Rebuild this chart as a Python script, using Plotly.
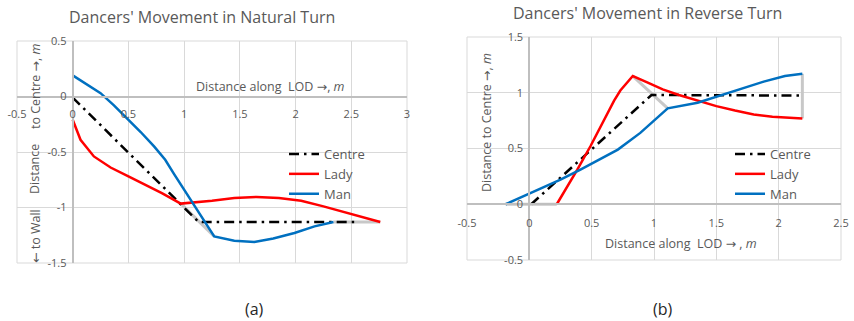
import plotly.graph_objects as go

# ---------------- data: chart (a) Natural Turn ----------------
a_centre_x = [0.0, 1.13, 2.55]
a_centre_y = [-0.01, -1.13, -1.13]
a_lady_x = [0.0, 0.07, 0.19, 0.34, 0.5, 0.64, 0.8, 0.97, 1.1, 1.25, 1.45, 1.65, 1.85, 2.05, 2.25, 2.5, 2.76]
a_lady_y = [-0.21, -0.39, -0.54, -0.64, -0.72, -0.79, -0.87, -0.965, -0.955, -0.94, -0.915, -0.905, -0.915, -0.94, -0.99, -1.06, -1.13]
a_man_x = [0.0, 0.06, 0.12, 0.25, 0.37, 0.49, 0.61, 0.73, 0.83, 0.91, 1.0, 1.09, 1.18, 1.27, 1.45, 1.63, 1.8, 1.99, 2.17, 2.34]
a_man_y = [0.19, 0.15, 0.11, 0.03, -0.08, -0.2, -0.32, -0.45, -0.57, -0.7, -0.84, -0.99, -1.12, -1.26, -1.30, -1.31, -1.28, -1.23, -1.17, -1.13]
a_link_x = [[0.97, 1.27], [2.34, 2.76]]
a_link_y = [[-0.965, -1.26], [-1.13, -1.13]]

# ---------------- data: chart (b) Reverse Turn ----------------
b_centre_x = [0.015, 0.98, 2.19]
b_centre_y = [0.0, 0.98, 0.975]
b_lady_x = [0.22, 0.3, 0.385, 0.49, 0.56, 0.63, 0.68, 0.73, 0.78, 0.83, 0.95, 1.07, 1.2, 1.35, 1.5, 1.65, 1.8, 1.95, 2.1, 2.19]
b_lady_y = [0.0, 0.15, 0.31, 0.52, 0.67, 0.82, 0.93, 1.02, 1.09, 1.15, 1.09, 1.03, 0.98, 0.93, 0.88, 0.84, 0.805, 0.785, 0.775, 0.77]
b_man_x = [-0.19, -0.05, 0.09, 0.25, 0.41, 0.56, 0.71, 0.89, 1.05, 1.11, 1.35, 1.61, 1.88, 2.05, 2.19]
b_man_y = [0.0, 0.07, 0.14, 0.22, 0.31, 0.4, 0.49, 0.64, 0.8, 0.86, 0.91, 1.0, 1.1, 1.15, 1.17]
b_link_x = [[-0.19, 0.22], [0.83, 1.11], [2.19, 2.19]]
b_link_y = [[0.0, 0.0], [1.15, 0.86], [0.77, 1.17]]

# ticks
a_xticks = [-0.5, 0, 0.5, 1, 1.5, 2, 2.5, 3]
a_xtext = ["-0.5", "0", "0.5", "1", "1.5", "2", "2.5", "3"]
a_yticks = [-1.5, -1, -0.5, 0, 0.5]
a_ytext = ["-1.5", "-1", "-0.5", "0", "0.5"]
b_xticks = [-0.5, 0, 0.5, 1, 1.5, 2, 2.5]
b_xtext = ["-0.5", "0", "0.5", "1", "1.5", "2", "2.5"]
b_yticks = [-0.5, 0, 0.5, 1, 1.5]
b_ytext = ["-0.5", "0", "0.5", "1", "1.5"]

series_names = ["Centre", "Lady", "Man"]

# ---------------- layout geometry ----------------
W, H = 854, 321
FONT = "Open Sans"
GREY = "#595959"
GRID = "#D9D9D9"
AXL = "#BFBFBF"
LINK = "#C8C8C8"
RED = "#FF0000"
BLUE = "#0070C0"
DASH = "10px,5px,2.5px,5px"
ARROW_R = '<span style="font-family:DejaVu Sans">\u2192</span>'
ARROW_L = '<span style="font-family:DejaVu Sans">\u2190</span>'

xdomA = [17 / W, 407 / W]
ydomA = [1 - 263 / H, 1 - 41 / H]
xdomB = [467 / W, 841 / W]
ydomB = [1 - 260 / H, 1 - 37 / H]
xrA, yrA = [-0.5, 3], [-1.5, 0.5]
xrB, yrB = [-0.5, 2.5], [-0.5, 1.5]


def frac(v, r, d):
    return d[0] + (v - r[0]) / (r[1] - r[0]) * (d[1] - d[0])


fig = go.Figure()

for xs, ys in zip(a_link_x, a_link_y):
    fig.add_trace(go.Scatter(x=xs, y=ys, mode="lines", line=dict(color=LINK, width=3),
                             showlegend=False, hoverinfo="skip", xaxis="x", yaxis="y"))
for xs, ys in zip(b_link_x, b_link_y):
    fig.add_trace(go.Scatter(x=xs, y=ys, mode="lines", line=dict(color=LINK, width=3),
                             showlegend=False, hoverinfo="skip", xaxis="x2", yaxis="y2"))

fig.add_trace(go.Scatter(x=a_centre_x, y=a_centre_y, name=series_names[0], mode="lines",
                         line=dict(color="black", width=2.5, dash=DASH), xaxis="x", yaxis="y", legend="legend"))
fig.add_trace(go.Scatter(x=a_lady_x, y=a_lady_y, name=series_names[1], mode="lines",
                         line=dict(color=RED, width=2.5), xaxis="x", yaxis="y", legend="legend"))
fig.add_trace(go.Scatter(x=a_man_x, y=a_man_y, name=series_names[2], mode="lines",
                         line=dict(color=BLUE, width=2.5), xaxis="x", yaxis="y", legend="legend"))
fig.add_trace(go.Scatter(x=b_centre_x, y=b_centre_y, name=series_names[0], mode="lines",
                         line=dict(color="black", width=2.5, dash=DASH), xaxis="x2", yaxis="y2", legend="legend2"))
fig.add_trace(go.Scatter(x=b_lady_x, y=b_lady_y, name=series_names[1], mode="lines",
                         line=dict(color=RED, width=2.5), xaxis="x2", yaxis="y2", legend="legend2"))
fig.add_trace(go.Scatter(x=b_man_x, y=b_man_y, name=series_names[2], mode="lines",
                         line=dict(color=BLUE, width=2.5), xaxis="x2", yaxis="y2", legend="legend2"))

tickfont = dict(family=FONT, size=11, color=GREY)
common = dict(showgrid=True, gridcolor=GRID, gridwidth=1, zeroline=False, showline=True,
              linecolor=AXL, linewidth=2, ticks="", tickfont=tickfont, fixedrange=True,
              automargin=False)

fig.update_layout(
    width=W, height=H, margin=dict(l=0, r=0, t=0, b=0, pad=0, autoexpand=False),
    paper_bgcolor="white", plot_bgcolor="white",
    font=dict(family=FONT, color=GREY),
    xaxis=dict(domain=xdomA, range=xrA, tickvals=a_xticks, ticktext=a_xtext,
               anchor="free", position=frac(0, yrA, ydomA), ticklabelstandoff=7, **common),
    yaxis=dict(domain=ydomA, range=yrA, tickvals=a_yticks, ticktext=a_ytext,
               anchor="free", position=frac(0, xrA, xdomA), ticklabelstandoff=3, **common),
    xaxis2=dict(domain=xdomB, range=xrB, tickvals=b_xticks, ticktext=b_xtext,
                anchor="free", position=frac(0, yrB, ydomB), ticklabelstandoff=9, **common),
    yaxis2=dict(domain=ydomB, range=yrB, tickvals=b_yticks, ticktext=b_ytext,
                anchor="free", position=frac(0, xrB, xdomB), ticklabelstandoff=3, **common),
    legend=dict(x=284 / W, y=1 - 139 / H, xanchor="left", yanchor="top",
                bgcolor="rgba(0,0,0,0)", font=dict(family=FONT, size=13, color=GREY),
                tracegroupgap=0, itemwidth=30),
    legend2=dict(x=730 / W, y=1 - 139 / H, xanchor="left", yanchor="top",
                 bgcolor="rgba(0,0,0,0)", font=dict(family=FONT, size=13, color=GREY),
                 tracegroupgap=0, itemwidth=30),
    showlegend=True,
)

for xd, yd in [(xdomA, ydomA), (xdomB, ydomB)]:
    fig.add_shape(type="rect", xref="paper", yref="paper", x0=xd[0], x1=xd[1], y0=yd[0], y1=yd[1],
                  line=dict(color=GRID, width=1), layer="below")


def ann(text, x, y, size=12, color=GREY, angle=0):
    fig.add_annotation(text=text, x=x / W, y=1 - y / H, xref="paper", yref="paper",
                       showarrow=False, textangle=angle, xanchor="center", yanchor="middle",
                       font=dict(family=FONT, size=size, color=color))


ann("Dancers' Movement in Natural Turn", 202, 17, size=16)
ann("Dancers' Movement in Reverse Turn", 647, 13, size=16)
ann("(a)", 254, 309, size=16, color="#262626")
ann("(b)", 663, 309, size=16, color="#262626")
ann("Distance along \u00a0LOD " + ARROW_R + ", <i>m</i>", 270, 86, size=12.5)
ann("Distance along \u00a0LOD " + ARROW_R + " , <i>m</i>", 681, 243, size=12.5)
ann("to Centre " + ARROW_R + ", <i>m</i>", 35, 86, size=12.5, angle=-90)
ann("Distance", 35, 169, size=12.5, angle=-90)
ann(ARROW_L + " to Wall", 35, 236, size=12.5, angle=-90)
ann("Distance to Centre " + ARROW_R + ", <i>m</i>", 487, 123, size=12.5, angle=-90)

fig.write_html("out.html",
               config={"displayModeBar": False},
               post_script="document.body.style.margin='0';document.body.style.padding='0';"
                           "document.body.style.overflow='hidden';")
